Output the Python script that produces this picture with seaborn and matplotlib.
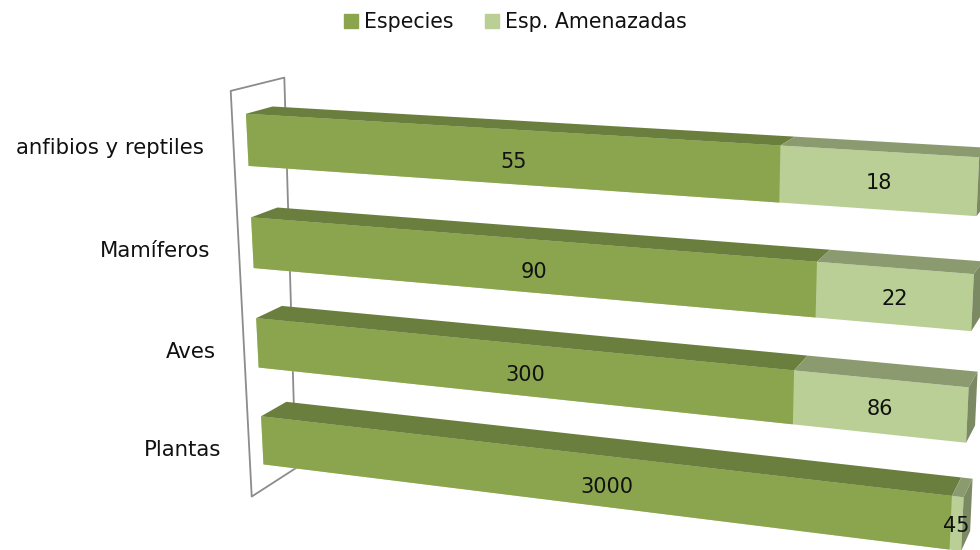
import numpy as np
import pandas as pd
import matplotlib
matplotlib.use("Agg")
import matplotlib.pyplot as plt
import seaborn as sns
from matplotlib.patches import Patch
from matplotlib.transforms import Affine2D, Transform

categorias = ["anfibios y reptiles", "Mamíferos", "Aves", "Plantas"]
especies = [55, 90, 300, 3000]
amenazadas = [18, 22, 86, 45]
series = ["Especies", "Esp. Amenazadas"]

VERDE, VERDE_TOP = "#8aa54e", "#6a7f3d"
CLARO, CLARO_TOP, LADO = "#b9cf95", "#8b9b6f", "#7c8a63"
BAR_W = 0.5

# Oblique-view calibration: (share along bar, category position, depth) -> image pixel
CAL = [
    (0, -.25, 0, 246, 114), (0, .25, 0, 249, 167), (.753, -.25, 0, 780, 145), (.753, .25, 0, 779, 203),
    (1, -.25, 0, 979, 157), (1, .25, 0, 978, 217),
    (0, .75, 0, 251, 217), (0, 1.25, 0, 254, 269), (.804, .75, 0, 817, 262), (.804, 1.25, 0, 816, 319),
    (1, .75, 0, 975, 273), (1, 1.25, 0, 972, 332),
    (0, 1.75, 0, 256, 317), (0, 2.25, 0, 258, 368), (.777, 1.75, 0, 794, 370), (.777, 2.25, 0, 792, 424),
    (1, 1.75, 0, 968, 387), (1, 2.25, 0, 966, 443),
    (0, 2.75, 0, 261, 416), (0, 3.25, 0, 263, 465), (.985, 2.75, 0, 952, 495), (.985, 3.25, 0, 950, 550),
    (1, 2.75, 0, 963, 496), (1, 3.25, 0, 960, 550),
    (0, -.25, 1, 272, 106), (.753, -.25, 1, 794, 136),
    (0, .75, 1, 278, 207), (.804, .75, 1, 830, 250), (1, .75, 1, 980, 261),
    (0, 1.75, 1, 282, 305), (.777, 1.75, 1, 808, 356), (1, 1.75, 1, 978, 372),
    (0, 2.75, 1, 287, 402), (.985, 2.75, 1, 962, 479), (1, 2.75, 1, 973, 479),
]
A = []
for u, v, d, x, y in CAL:
    x, y = x / 1000, y / 1000
    A.append([u, v, d, 1, 0, 0, 0, 0, -x * u, -x * v, -x * d, -x])
    A.append([0, 0, 0, 0, u, v, d, 1, -y * u, -y * v, -y * d, -y])
P = np.linalg.svd(np.array(A, float))[2][-1].reshape(3, 4)


def project(u, v, d):
    u, v, d = np.broadcast_arrays(np.asarray(u, float), np.asarray(v, float), np.asarray(d, float))
    q = P @ np.stack([u.ravel(), v.ravel(), d.ravel(), np.ones(u.size)])
    return q[0] / q[2] * 1000, q[1] / q[2] * 1000


class Oblique(Transform):
    input_dims = output_dims = 2
    is_separable = False
    has_inverse = False

    def __init__(self, plane=0.0):
        super().__init__()
        self.plane = plane

    def transform_non_affine(self, values):
        x, y = project(values[:, 0], values[:, 1], self.plane)
        return np.column_stack([x, y])


sns.set_theme(style="white")
plt.rcParams["font.family"] = ["DejaVu Sans"]

fig = plt.figure(figsize=(9.8, 5.5), dpi=100, facecolor="white")
ax = fig.add_axes([0, 0, 1, 1])
PX = Affine2D().scale(1, -1).translate(0, 550)

esp = np.array(especies, float)
ame = np.array(amenazadas, float)
share = esp / (esp + ame)
df = pd.DataFrame({"categoria": categorias, "esp": share, "total": np.ones(len(share))})

sns.barplot(data=df, y="categoria", x="total", orient="h", color=CLARO, saturation=1, width=BAR_W, ax=ax, zorder=3)
sns.barplot(data=df, y="categoria", x="esp", orient="h", color=VERDE, saturation=1, width=BAR_W, ax=ax, zorder=3)
front = Oblique(0.0) + PX
for p in ax.patches:
    p.set_transform(front)
    p.set_linewidth(0)


def face(u, v, d, color, z=3):
    x, y = project(u, v, d)
    ax.fill(x, y, color=color, lw=0, transform=PX, zorder=z)


def segment_label(u0, u1, v, text):
    # labels sit halfway between the segment's ends on screen
    x, y = project([u0, u1], [v, v], [0, 0])
    ax.text(x.mean(), y.mean(), text, transform=PX, ha="center", va="center",
            fontsize=15, color="#111111", zorder=5)


# back wall
wx, wy = project([0, 0, 0, 0, 0], [3.5, -.5, -.5, 3.5, 3.5], [1.25, 1.5, -.5, -.5, 1.25])
ax.plot(wx, wy, color="#8c8c8c", lw=1.3, transform=PX, zorder=1)

for i, s in enumerate(share):
    top = i - BAR_W / 2
    bot = i + BAR_W / 2
    face([0, s, s, 0], [top] * 4, [0, 0, 1, 1], VERDE_TOP)
    face([s, 1, 1, s], [top] * 4, [0, 0, 1, 1], CLARO_TOP)
    face([1, 1, 1, 1], [top, bot, bot, top], [0, 0, 1, 1], LADO)

    segment_label(0, s, i + .05, str(especies[i]))
    segment_label(s, 1, i + .02, str(amenazadas[i]))
    x, y = project(-.046, i + .055, -.5)
    ax.text(x[0], y[0], categorias[i], transform=PX, ha="right", va="center", fontsize=15.3, color="#111111", zorder=5)

ax.set_xlabel("")
ax.set_ylabel("")
ax.set_xlim(0, 1)
ax.set_ylim(3.5, -.5)
ax.axis("off")

fig.legend(
    handles=[Patch(color=VERDE, label=series[0]), Patch(color=CLARO, label=series[1])],
    loc="center", bbox_to_anchor=(515.5 / 980, 1 - 22 / 550), ncol=2, frameon=False,
    fontsize=14.8, handlelength=.68, handleheight=.68, handletextpad=.32, columnspacing=1.5,
    labelcolor="#111111",
)
fig.savefig("out.png", dpi=100, facecolor="white")
